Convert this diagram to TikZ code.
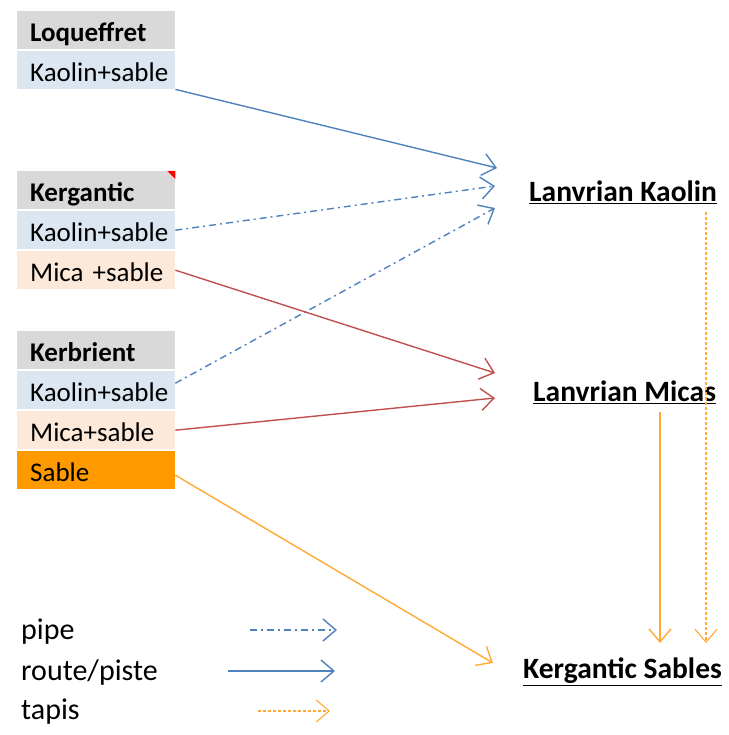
\documentclass[tikz,border=0pt]{standalone}
\usepackage{fontspec}
\setmainfont{Carlito}
\usetikzlibrary{arrows.meta, positioning, calc}
\definecolor{headcolor}{RGB}{217,217,217}
\definecolor{kaolincolor}{RGB}{220,230,241}
\definecolor{micacolor}{RGB}{253,233,217}
\definecolor{sablecolor}{RGB}{255,153,0}
\definecolor{bluearrow}{RGB}{79,129,189}
\definecolor{redarrow}{RGB}{192,80,77}
\definecolor{orangearrow}{RGB}{255,170,50}
\tikzset{
    cell/.style={rectangle, anchor=north west, inner xsep=0pt, inner ysep=0pt,
        minimum width=158pt, minimum height=38pt, text width=158pt, align=left,
        text height=23pt, text depth=0pt,
        execute at begin node=\hspace*{13pt},
        font=\fontsize{27}{30}\selectfont},
    head/.style={cell, fill=headcolor, font=\fontsize{27}{30}\selectfont\bfseries},
    quarry/.style={anchor=west, inner sep=0pt, font=\fontsize{29.5}{34}\selectfont\bfseries},
    legend/.style={anchor=west, inner sep=0pt, font=\fontsize{30}{34}\selectfont},
    flow/.style={-{Straight Barb[length=13pt, width=22pt]}, line width=1.4pt},
    route/.style={flow, bluearrow},
    pipe/.style={flow, bluearrow, dash pattern=on 7pt off 4pt on 2pt off 4pt},
    mica/.style={flow, redarrow},
    sand/.style={flow, orangearrow},
    tapis/.style={flow, orangearrow, line width=1.1pt, dash pattern=on 3pt off 2pt}
}

\begin{document}
\begin{tikzpicture}[x=1pt, y=-1pt]
    \useasboundingbox (0,0) rectangle (728,735);

    % sources
    \node[head] (loq) at (17,11) {Loqueffret};
    \node[cell, fill=kaolincolor] (loqk) at (17,51) {Kaolin+sable};

    \node[head] (kgt) at (17,171) {Kergantic};
    \node[cell, fill=kaolincolor] (kgtk) at (17,211) {Kaolin+sable};
    \node[cell, fill=micacolor] (kgtm) at (17,251) {Mica +sable};
    \fill[red] (kgt.north east) -- ++(-8,0) -- ++(8,8) -- cycle;

    \node[head] (kbr) at (17,331) {Kerbrient};
    \node[cell, fill=kaolincolor] (kbrk) at (17,371) {Kaolin+sable};
    \node[cell, fill=micacolor] (kbrm) at (17,411) {Mica+sable};
    \node[cell, fill=sablecolor] (kbrs) at (17,451) {Sable};

    % destinations
    \node[quarry] (lkaolin) at (529,192) {\underline{Lanvrian Kaolin}};
    \node[quarry] (lmicas) at (533,392) {\underline{Lanvrian Micas}};
    \node[quarry] (ksables) at (523,672) {\underline{Kergantic Sables}};

    \draw[route] (loqk.south east) -- ($(lkaolin.west)+(-32,-24)$);
    \draw[pipe] (kgtk.east) -- ($(lkaolin.west)+(-34,-6)$);
    \draw[pipe] ($(kbrk.east)+(0,-7)$) -- ($(lkaolin.west)+(-34,16)$);
    \draw[mica] (kgtm.east) -- ($(lmicas.west)+(-38,-19)$);
    \draw[mica] (kbrm.east) -- ($(lmicas.west)+(-38,6)$);
    \draw[sand] ($(kbrs.east)+(0,5)$) -- ($(ksables.west)+(-30,-9)$);
    \draw[sand] ($(lmicas.west)+(127,20)$) -- ($(ksables.west)+(137,-29)$);
    \draw[tapis] ($(lkaolin.west)+(177,20)$) -- ($(ksables.west)+(183,-29)$);

    % legend
    \node[legend] (lpipe) at (21,632) {pipe};
    \node[legend] (lroute) at (21,672) {route/piste};
    \node[legend] (ltapis) at (21,712) {tapis};
    \draw[pipe] ($(lpipe.west)+(229,-2)$) -- ($(lpipe.west)+(316,-2)$);
    \draw[route] ($(lroute.west)+(207,-1)$) -- ($(lroute.west)+(314,-1)$);
    \draw[tapis] ($(ltapis.west)+(237,-1)$) -- ($(ltapis.west)+(309,-1)$);

\end{tikzpicture}
\end{document}
